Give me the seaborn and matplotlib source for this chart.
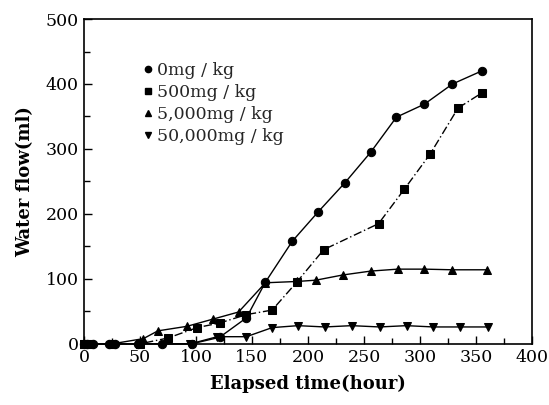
import matplotlib
matplotlib.use("Agg")
import matplotlib.pyplot as plt
import seaborn as sns
import pandas as pd
from matplotlib.lines import Line2D
from matplotlib.ticker import MultipleLocator

# ---- data ----
labels = ["0mg / kg", "500mg / kg", "5,000mg / kg", "50,000mg / kg"]

t0 = [0, 3, 8, 22, 28, 48, 70, 96, 121, 145, 162, 186, 209, 233, 256, 279, 304, 329, 355]
y0 = [0, 0, 0, 0, 0, 0, 0, 0, 10, 40, 95, 158, 203, 248, 295, 349, 369, 400, 420]

t500 = [0, 5, 25, 50, 75, 101, 121, 145, 168, 190, 214, 263, 286, 309, 334, 355]
y500 = [0, 0, 0, 0, 9, 25, 32, 45, 52, 95, 145, 185, 238, 292, 363, 386]

t5000 = [0, 5, 25, 53, 66, 92, 115, 138, 162, 190, 207, 231, 256, 280, 304, 329, 360]
y5000 = [0, 0, 0, 8, 20, 27, 38, 49, 94, 96, 98, 106, 112, 115, 115, 114, 114]

t50000 = [0, 5, 25, 50, 95, 119, 145, 168, 191, 215, 239, 264, 288, 312, 336, 361]
y50000 = [0, 0, 0, 0, 0, 11, 11, 25, 28, 26, 28, 26, 28, 26, 26, 26]

xticks = [0, 50, 100, 150, 200, 250, 300, 350, 400]
yticks = [0, 100, 200, 300, 400, 500]

frames = []
for lab, t, y in zip(labels, [t0, t500, t5000, t50000], [y0, y500, y5000, y50000]):
    frames.append(pd.DataFrame({"time": t, "flow": y, "dose": lab}))
df = pd.concat(frames, ignore_index=True)

sns.set_style("ticks")
plt.rcParams["font.family"] = ["DejaVu Serif"]

fig = plt.figure(figsize=(5.49, 4.05), dpi=100)
ax = fig.add_axes([0.153, 0.151, 0.816, 0.802])

markers = {labels[0]: "o", labels[1]: "s", labels[2]: "^", labels[3]: "v"}
dashes = {labels[0]: "", labels[1]: (6, 2, 1, 2), labels[2]: "", labels[3]: ""}
palette = {l: "black" for l in labels}

sns.lineplot(data=df, x="time", y="flow", hue="dose", style="dose",
             markers=markers, dashes=dashes, palette=palette,
             markersize=6, linewidth=1.0, markeredgecolor="black",
             legend=False, ax=ax, clip_on=False, sort=False)

ax.set_xlim(0, 400)
ax.set_ylim(0, 500)
ax.set_xticks(xticks)
ax.set_yticks(yticks)
ax.xaxis.set_minor_locator(MultipleLocator(25))
ax.yaxis.set_minor_locator(MultipleLocator(50))
ax.tick_params(axis="both", which="major", direction="in", length=6, width=1,
               labelsize=12.5, color="black", labelcolor="black", pad=4)
ax.tick_params(axis="both", which="minor", direction="in", length=4, width=1, color="black")
for s in ax.spines.values():
    s.set_color("black")
    s.set_linewidth(1.2)

ax.set_xlabel("Elapsed time(hour)", fontsize=13, fontweight="bold", color="black", labelpad=6)
ax.set_ylabel("Water flow(ml)", fontsize=13, fontweight="bold", color="black", labelpad=8)

handles = [Line2D([], [], marker=markers[l], linestyle="none", color="black",
                  markersize=4.5) for l in labels]
leg = ax.legend(handles, labels, loc="upper left", bbox_to_anchor=(0.115, 0.89),
                frameon=False, fontsize=12.5, handlelength=0.6, handletextpad=0.25,
                labelspacing=0.3, borderaxespad=0)

fig.savefig("out.png", dpi=100, facecolor="white")
